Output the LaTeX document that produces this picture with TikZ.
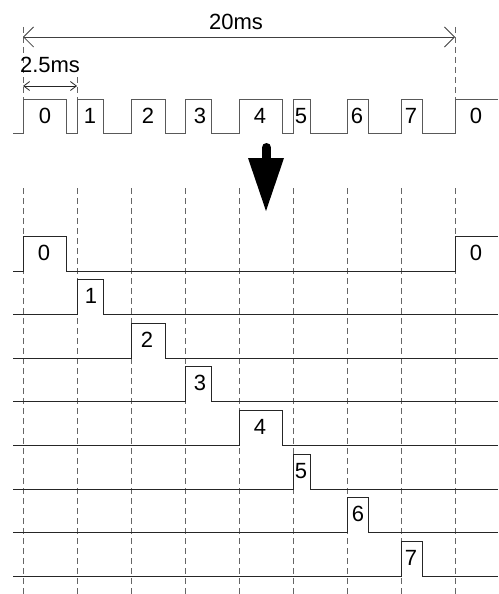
\documentclass[tikz,border=0pt]{standalone}
\usepackage{fontspec}
\setmainfont{Liberation Sans}
\usetikzlibrary{arrows.meta}
\begin{document}
\begin{tikzpicture}[x=1pt,y=-1pt,
  sig/.style={line width=1pt,color=black!85},
  topsig/.style={line width=1pt,color=black!65},
  grid/.style={line width=1pt,color=black!60,dash pattern=on 6pt off 4pt},
  lbl/.style={inner sep=0pt,anchor=base,font=\fontsize{22}{26}\selectfont},
  dimbig/.style={line width=0.8pt,color=black!75,{Straight Barb[length=10pt,width=20pt]}-{Straight Barb[length=10pt,width=20pt]}},
  dimsmall/.style={line width=0.8pt,color=black!85,{Straight Barb[length=6pt,width=9pt]}-{Straight Barb[length=6pt,width=9pt]}}]
\useasboundingbox[fill=white] (0,0) rectangle (498,594);

% top dashed markers
\draw[grid] (23,27) -- (23,99);
\draw[grid] (77,77) -- (77,99);
\draw[grid] (455,27) -- (455,99);

% dimension lines
\coordinate (d20a) at (23,37);
\coordinate (d20b) at (455,37);
\draw[dimbig] (d20a) -- (d20b);
\node[lbl] (t20) at (236,30) {20ms};
\coordinate (d25a) at (23,86);
\coordinate (d25b) at (77,86);
\draw[dimsmall] (d25a) -- (d25b);
\node[lbl] (t25) at (50,73) {2.5ms};

% top pulse train
\draw[topsig] (13,133) -- (23,133) -- (23,99) -- (66,99) -- (66,133) -- (77,133) -- (77,99) -- (103,99) -- (103,133)
  -- (131,133) -- (131,99) -- (165,99) -- (165,133) -- (185,133) -- (185,99) -- (211,99) -- (211,133)
  -- (239,133) -- (239,99) -- (282,99) -- (282,133) -- (293,133) -- (293,99) -- (310,99) -- (310,133)
  -- (347,133) -- (347,99) -- (368,99) -- (368,133) -- (401,133) -- (401,99) -- (422,99) -- (422,133)
  -- (455,133) -- (455,99) -- (498,99);
\foreach \x/\t [count=\i] in {45/0,90/1,148/2,200/3,260/4,301/5,357/6,411/7,476/0}
  \node[lbl] (top\i) at (\x,123) {\t};

% big arrow
\draw[line width=9pt,line cap=round] (266.5,147.5) -- (266.5,162);
\fill (248,158) -- (284,158) -- (266,211) -- cycle;

% lower dashed grid
\foreach \x in {23,77,131,185,239,293,347,401,455}
  \draw[grid] (\x,188) -- (\x,594);

% row 0
\draw[sig] (13,271) -- (23,271) -- (23,236) -- (66,236) -- (66,271) -- (455,271) -- (455,236) -- (498,236);
\node[lbl] (r0a) at (44,260) {0};
\node[lbl] (r0b) at (476,260) {0};

% rows 1..7
\foreach \s/\e/\lx/\t [count=\i] in {77/103/91/1,131/165/147/2,185/211/200/3,239/282/260/4,293/310/301/5,347/368/358/6,401/422/411/7}{
  \pgfmathsetmacro{\b}{271+43.65*\i}
  \pgfmathsetmacro{\h}{\b-35}
  \pgfmathsetmacro{\lb}{\b-11}
  \draw[sig] (13,\b) -- (\s,\b) -- (\s,\h) -- (\e,\h) -- (\e,\b) -- (498,\b);
  \node[lbl] (r\i) at (\lx,\lb) {\t};
}
\end{tikzpicture}
\end{document}
